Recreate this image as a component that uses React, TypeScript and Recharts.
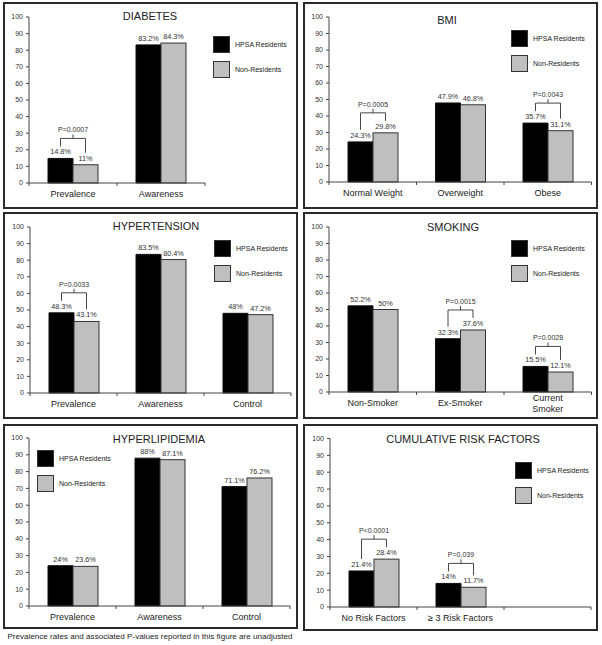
import React from "react"
import { Bar, BarChart, LabelList, XAxis, YAxis } from "recharts"

const FONT = '"Liberation Sans", Arial, Helvetica, sans-serif'
const BLACK = "#000000"
const GRAY = "#bfbfbf"
const INK = "#333333"

const yTicks = [0, 10, 20, 30, 40, 50, 60, 70, 80, 90, 100]
const seriesNames = ["HPSA Residents", "Non-Residents"]

const diabetesCats = ["Prevalence", "Awareness"]
const diabetesHpsa = [14.8, 83.2]
const diabetesNon = [11, 84.3]
const diabetesP = ["P=0.0007", null]

const bmiCats = ["Normal Weight", "Overweight", "Obese"]
const bmiHpsa = [24.3, 47.9, 35.7]
const bmiNon = [29.8, 46.8, 31.1]
const bmiP = ["P=0.0005", null, "P=0.0043"]

const htnCats = ["Prevalence", "Awareness", "Control"]
const htnHpsa = [48.3, 83.5, 48]
const htnNon = [43.1, 80.4, 47.2]
const htnP = ["P=0.0033", null, null]

const smokeCats = ["Non-Smoker", "Ex-Smoker", "Current\nSmoker"]
const smokeHpsa = [52.2, 32.3, 15.5]
const smokeNon = [50, 37.6, 12.1]
const smokeP = [null, "P=0.0015", "P=0.0028"]

const lipidCats = ["Prevalence", "Awareness", "Control"]
const lipidHpsa = [24, 88, 71.1]
const lipidNon = [23.6, 87.1, 76.2]
const lipidP = [null, null, null]

const riskCats = ["No Risk Factors", "≥ 3 Risk Factors", ""]
const riskHpsa = [21.4, 14, null]
const riskNon = [28.4, 11.7, null]
const riskP = ["P<0.0001", "P=0.039", null]

const footnote = "Prevalence rates and associated P-values reported in this figure are unadjusted"

// page-pixel layout for each panel
type Layout = {
  box: [number, number, number, number]
  axisX: number
  top: number
  bottom: number
  band: number
  title: [number, number]
  legend: [number, number]
}

const BORDER = 2
const YW = 20
const XH = 20

const fmt = (v: any) => (v == null ? "" : `${v}%`)

function CatTick(props: any) {
  const { x, y, payload, index, half, count } = props
  const lines = String(payload?.value ?? "").split("\n").filter((s) => s !== "")
  const lh = 11
  const first = y + 11 - ((lines.length - 1) * lh) / 2
  return (
    <g>
      <line x1={x - half} x2={x - half} y1={y} y2={y + 3} stroke="#444" />
      {index === count - 1 && <line x1={x + half} x2={x + half} y1={y} y2={y + 3} stroke="#444" />}
      {lines.map((s, i) => (
        <text
          key={i}
          x={x}
          y={first + i * lh}
          dy="0.35em"
          textAnchor="middle"
          fontSize={9}
          fill="#222"
          fontFamily={FONT}
        >
          {s}
        </text>
      ))}
    </g>
  )
}

// gray bar, plus the P-value bracket spanning the pair
function GrayShape(props: any) {
  const { x, y, width, height, payload } = props
  if (x == null || width == null || height == null) return null
  const base = y + height
  let bracket = null
  if (payload && payload.p && payload.non) {
    const blackTop = base - (payload.hpsa / payload.non) * height
    const lx = x - width / 2
    const rx = x + width / 2
    const mx = x
    const armL = blackTop - 12
    const armR = y - 12
    const h = Math.min(armL, armR) - 8
    bracket = (
      <g>
        <path
          d={`M${lx},${armL}V${h}H${rx}V${armR}M${mx},${h}V${h - 4}`}
          fill="none"
          stroke={INK}
          strokeWidth={0.9}
        />
        <text x={mx} y={h - 6} textAnchor="middle" fontSize={7} fill={INK} fontFamily={FONT}>
          {payload.p}
        </text>
      </g>
    )
  }
  return (
    <g>
      <rect x={x} y={y} width={width} height={height} fill={GRAY} stroke={INK} strokeWidth={1} />
      {bracket}
    </g>
  )
}

function Panel({
  title,
  cats,
  hpsa,
  non,
  pv,
  lay,
}: {
  title: string
  cats: string[]
  hpsa: (number | null)[]
  non: (number | null)[]
  pv: (string | null)[]
  lay: Layout
}) {
  const [bx, by, bw, bh] = lay.box
  const cx = bx + BORDER
  const cy = by + BORDER
  const cw = bw - 2 * BORDER
  const ch = bh - 2 * BORDER
  const data = cats.map((c, i) => ({ name: c, hpsa: hpsa[i], non: non[i], p: pv[i] }))
  const plotW = cats.length * lay.band
  const margin = {
    left: lay.axisX - cx - YW,
    top: lay.top - cy,
    right: cw - (lay.axisX - cx) - plotW,
    bottom: cy + ch - lay.bottom - XH,
  }
  const labelStyle = { fontSize: 7.3, fill: INK, fontFamily: FONT }

  return (
    <>
      <div
        style={{
          position: "absolute",
          left: bx,
          top: by,
          width: bw,
          height: bh,
          boxSizing: "border-box",
          border: `${BORDER}px solid #2a2a2a`,
        }}
      >
        <BarChart width={cw} height={ch} data={data} margin={margin} barGap={0}>
          <YAxis
            type="number"
            domain={[0, 100]}
            ticks={yTicks}
            interval={0}
            width={YW}
            tickSize={3}
            tickMargin={3}
            axisLine={{ stroke: "#444" }}
            tickLine={{ stroke: "#444" }}
            tick={{ fontSize: 7, fill: INK, fontFamily: FONT }}
          />
          <XAxis
            dataKey="name"
            interval={0}
            height={XH}
            tickSize={0}
            tickMargin={0}
            tickLine={false}
            axisLine={{ stroke: "#444" }}
            tick={<CatTick half={lay.band / 2} count={cats.length} />}
          />
          <Bar dataKey="hpsa" fill={BLACK} stroke="#111" strokeWidth={1} barSize={25} isAnimationActive={false}>
            <LabelList dataKey="hpsa" position="top" offset={4} formatter={fmt} style={labelStyle} />
          </Bar>
          <Bar dataKey="non" fill={GRAY} barSize={25} shape={<GrayShape />} isAnimationActive={false}>
            <LabelList dataKey="non" position="top" offset={4} formatter={fmt} style={labelStyle} />
          </Bar>
        </BarChart>
      </div>
      <div
        style={{
          position: "absolute",
          left: lay.title[0],
          top: lay.title[1],
          transform: "translate(-50%, -50%)",
          fontSize: 11,
          color: "#222",
          whiteSpace: "nowrap",
          lineHeight: 1,
        }}
      >
        {title}
      </div>
      {seriesNames.map((s, i) => (
        <div
          key={s}
          style={{
            position: "absolute",
            left: lay.legend[0],
            top: lay.legend[1] + i * 24.5,
            display: "flex",
            alignItems: "center",
            whiteSpace: "nowrap",
          }}
        >
          <div
            style={{
              width: 17,
              height: 17,
              boxSizing: "border-box",
              background: i === 0 ? BLACK : GRAY,
              border: `1px solid ${INK}`,
            }}
          />
          <span style={{ marginLeft: 5, fontSize: 7, color: "#222" }}>{s}</span>
        </div>
      ))}
    </>
  )
}

const L: Record<string, Layout> = {
  diabetes: { box: [3, 2, 295, 207], axisX: 29, top: 17, bottom: 183, band: 88, title: [150, 16], legend: [213, 36] },
  bmi: { box: [303, 2, 295, 207], axisX: 329, top: 17, bottom: 182, band: 87.5, title: [447, 20], legend: [511, 30] },
  htn: { box: [3, 212, 295, 207], axisX: 30, top: 227, bottom: 393, band: 87, title: [156, 225.5], legend: [214, 240] },
  smoke: { box: [303, 212, 295, 207], axisX: 329, top: 227, bottom: 392, band: 87.5, title: [453, 227], legend: [511, 240] },
  lipid: { box: [3, 424, 295, 205], axisX: 29, top: 438, bottom: 606, band: 87, title: [159, 439], legend: [37, 450] },
  risk: { box: [303, 424, 295, 207], axisX: 330, top: 438.5, bottom: 607, band: 87, title: [463, 439], legend: [515, 462] },
}

export default function App() {
  return (
    <div
      style={{
        position: "absolute",
        left: 0,
        top: 0,
        width: 602,
        height: 645,
        background: "#fff",
        fontFamily: FONT,
        overflow: "hidden",
      }}
    >
      <Panel title="DIABETES" cats={diabetesCats} hpsa={diabetesHpsa} non={diabetesNon} pv={diabetesP} lay={L.diabetes} />
      <Panel title="BMI" cats={bmiCats} hpsa={bmiHpsa} non={bmiNon} pv={bmiP} lay={L.bmi} />
      <Panel title="HYPERTENSION" cats={htnCats} hpsa={htnHpsa} non={htnNon} pv={htnP} lay={L.htn} />
      <Panel title="SMOKING" cats={smokeCats} hpsa={smokeHpsa} non={smokeNon} pv={smokeP} lay={L.smoke} />
      <Panel title="HYPERLIPIDEMIA" cats={lipidCats} hpsa={lipidHpsa} non={lipidNon} pv={lipidP} lay={L.lipid} />
      <Panel title="CUMULATIVE RISK FACTORS" cats={riskCats} hpsa={riskHpsa} non={riskNon} pv={riskP} lay={L.risk} />
      <div
        style={{
          position: "absolute",
          left: 0,
          top: 637,
          width: 300,
          transform: "translateY(-50%)",
          textAlign: "center",
          fontSize: 8.1,
          color: "#222",
          whiteSpace: "nowrap",
          lineHeight: 1,
        }}
      >
        {footnote}
      </div>
    </div>
  )
}
